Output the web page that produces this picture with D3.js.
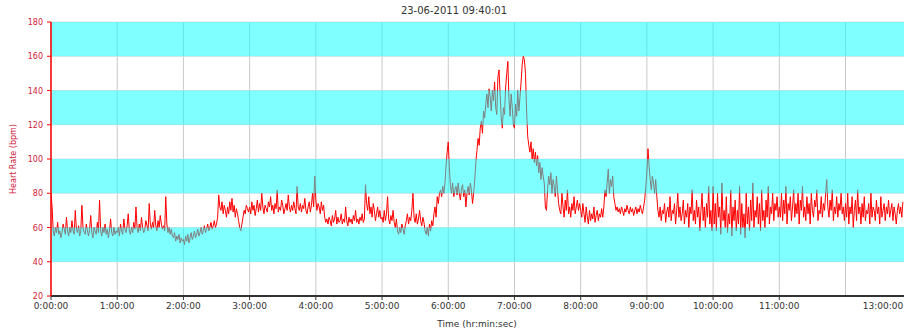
<!DOCTYPE html>
<html>
<head>
<meta charset="utf-8">
<script src="https://cdn.jsdelivr.net/npm/d3@7"></script>
<style>
  body { margin: 0; background: #fff; }
  svg { display: block; font-family: "DejaVu Sans", Verdana, sans-serif; }
</style>
</head>
<body>
<div id="chart"></div>
<script>
// heart rate samples, one a minute, grouped by hour
var hr0  = [80,72,58,55,60,57,63,56,58,54,57,62,59,56,66,58,55,60,57,64,
            58,56,70,59,57,61,55,58,73,60,57,56,62,58,55,59,67,57,54,60,
            58,56,63,57,76,58,55,60,57,62,56,59,54,58,65,57,55,60,56,58];
var hr1  = [57,60,55,62,58,56,65,59,57,61,68,58,56,60,57,63,59,72,60,57,
            62,58,66,60,57,59,64,61,58,74,62,59,63,60,70,61,58,64,60,67,
            62,59,61,58,78,62,57,60,56,59,55,54,57,52,55,53,56,51,54,52];
var hr2  = [53,50,55,52,56,51,54,57,53,55,58,54,56,59,55,57,60,56,58,61,
            57,59,62,58,60,63,59,61,64,60,62,66,79,72,70,75,68,73,70,66,
            72,68,75,70,77,69,73,66,71,68,64,60,58,62,66,70,68,73,71,69];
var hr3  = [72,68,75,70,73,67,71,76,69,74,70,80,72,68,73,71,69,75,72,78,
            70,73,68,74,71,82,69,72,70,76,73,68,71,74,70,79,72,69,73,70,
            75,71,68,84,72,70,74,69,73,71,77,70,68,72,75,69,73,80,72,90];
var hr4  = [76,70,74,72,68,75,70,73,66,63,65,62,66,64,61,67,63,65,70,62,
            66,63,64,68,62,65,63,72,64,61,66,63,65,62,67,64,70,63,65,62,
            66,64,68,63,65,85,74,70,78,68,72,66,74,70,64,68,72,66,70,65];
var hr5  = [66,63,70,64,68,78,65,62,67,64,70,63,60,65,58,56,60,57,62,59,
            56,61,64,68,62,66,64,70,80,66,63,68,62,65,70,64,61,66,63,58,
            56,60,55,62,58,64,61,68,72,66,78,74,80,82,78,84,80,86,96,104];
var hr6  = [110,95,84,80,86,78,82,84,79,86,80,76,83,85,78,82,72,80,84,79,
            86,82,74,80,88,98,105,112,108,118,122,115,128,124,132,138,130,141,136,128,
            140,134,145,130,126,148,152,138,124,118,130,126,142,150,157,135,125,138,130,120];
var hr7  = [118,132,125,140,128,136,145,155,160,158,150,128,113,108,104,110,100,106,98,104,
            96,102,92,98,88,95,90,86,72,70,82,90,85,92,80,88,84,78,90,82,
            74,70,68,80,72,66,76,70,82,68,72,66,74,70,78,68,72,76,70,74];
var hr8  = [70,66,74,68,63,72,66,62,70,64,68,65,72,63,67,70,64,68,66,71,
            66,72,82,78,86,94,80,88,84,90,78,74,70,72,69,71,68,72,70,67,
            71,69,73,70,68,72,69,71,67,70,72,68,71,69,73,70,68,72,76,84];
var hr9  = [92,106,96,88,82,90,86,80,88,78,70,66,72,64,70,68,74,63,69,72,
            66,78,64,70,68,74,62,70,80,66,72,64,68,76,62,70,66,74,60,72,
            68,82,64,70,62,76,66,72,58,70,80,64,72,60,74,66,84,62,70,58];
var hr10 = [84,62,74,58,80,66,72,56,86,64,70,60,78,57,68,62,82,55,72,64,
            76,58,70,62,84,56,74,60,68,54,80,62,72,58,76,64,86,60,70,66,
            78,62,74,58,82,64,70,60,76,66,84,62,72,68,80,64,74,70,78,66];
var hr11 = [72,66,80,64,76,68,84,62,74,70,78,64,72,82,66,74,68,80,62,76,
            70,84,66,72,64,78,68,74,62,80,70,66,76,72,82,64,70,68,78,66,
            74,70,80,88,72,66,76,70,82,64,72,68,78,66,74,70,80,68,72,64];
var hr12 = [74,66,80,62,72,68,78,60,70,76,64,82,68,72,62,74,66,78,64,70,
            68,74,62,80,66,72,70,64,76,68,72,62,78,66,70,74,64,72,68,76,
            66,70,74,64,72,68,62,70,74,68,72,66,75];

var stepMin = 1;
var heartRate = [].concat(hr0, hr1, hr2, hr3, hr4, hr5, hr6, hr7, hr8, hr9, hr10, hr11, hr12);

var xHours = [0,1,2,3,4,5,6,7,8,9,10,11,12];          // grid lines, minutes = h*60
var xTickLabels = ["0:00:00","1:00:00","2:00:00","3:00:00","4:00:00","5:00:00",
                   "6:00:00","7:00:00","8:00:00","9:00:00","10:00:00","11:00:00"];
var endTick = {min: 754, label: "13:00:00"};
var yTicks = [20,40,60,80,100,120,140,160,180];
var bands = [[40,60],[80,100],[120,140],[160,180]];
var title = "23-06-2011 09:40:01";

var width = 904, height = 332;
var margin = {top: 22, right: 0, bottom: 36, left: 51};

var svg = d3.select("#chart").append("svg")
	.attr("width", width)
	.attr("height", height);

var x = d3.scaleLinear()
	.domain([0, 773])
	.range([margin.left, width - margin.right]);
var y = d3.scaleLinear()
	.domain([20, 180])
	.range([height - margin.bottom, margin.top]);

svg.append("defs").append("clipPath").attr("id", "plot")
	.append("rect")
	.attr("x", margin.left).attr("y", margin.top)
	.attr("width", width - margin.left - margin.right)
	.attr("height", height - margin.top - margin.bottom);

// grid
svg.append("g")
	.selectAll("line")
	.data(xHours)
	.enter().append("line")
		.attr("x1", function(d) { return x(d*60); })
		.attr("x2", function(d) { return x(d*60); })
		.attr("y1", y(180)).attr("y2", y(20))
		.attr("stroke", "#c8c8c8").attr("stroke-width", 1);
svg.append("g")
	.selectAll("line")
	.data(yTicks)
	.enter().append("line")
		.attr("x1", margin.left).attr("x2", width)
		.attr("y1", function(d) { return y(d); })
		.attr("y2", function(d) { return y(d); })
		.attr("stroke", "#e2e2e2").attr("stroke-width", 1);

// the trace
var line = d3.line()
	.x(function(d, i) { return x(i*stepMin); })
	.y(function(d) { return y(d); });
svg.append("path")
	.datum(heartRate)
	.attr("clip-path", "url(#plot)")
	.attr("fill", "none")
	.attr("stroke", "#ff0000")
	.attr("stroke-width", 1)
	.attr("d", line);

// translucent zones on top, turns the red trace grey
svg.append("g")
	.selectAll("rect")
	.data(bands)
	.enter().append("rect")
		.attr("x", margin.left)
		.attr("y", function(d) { return y(d[1]); })
		.attr("width", width - margin.left)
		.attr("height", function(d) { return y(d[0]) - y(d[1]); })
		.attr("fill", "#00ffff").attr("fill-opacity", 0.5);

// x axis
var xAxis = svg.append("g").attr("transform", "translate(0," + y(20) + ")");
xAxis.append("line")
	.attr("x1", margin.left).attr("x2", width)
	.attr("stroke", "#333").attr("stroke-width", 2);
xAxis.selectAll("line.tick")
	.data(xTickLabels)
	.enter().append("line")
		.attr("class", "tick")
		.attr("x1", function(d, i) { return x(i*60); })
		.attr("x2", function(d, i) { return x(i*60); })
		.attr("y1", 0).attr("y2", 4)
		.attr("stroke", "#333");
xAxis.selectAll("text")
	.data(xTickLabels.concat([endTick.label]))
	.enter().append("text")
		.attr("x", function(d, i) { return i < xTickLabels.length ? x(i*60) : x(endTick.min); })
		.attr("y", 13)
		.attr("text-anchor", "middle")
		.attr("font-size", 9)
		.attr("fill", "#333")
		.text(function(d) { return d; });
svg.append("text")
	.attr("x", 477).attr("y", 327)
	.attr("text-anchor", "middle")
	.attr("font-size", 9)
	.attr("fill", "#333")
	.text("Time (hr:min:sec)");

// y axis
var yAxis = svg.append("g");
yAxis.append("line")
	.attr("x1", margin.left).attr("x2", margin.left)
	.attr("y1", y(180)).attr("y2", y(20))
	.attr("stroke", "#ff0000").attr("stroke-width", 1.5);
yAxis.selectAll("line.tick")
	.data(yTicks)
	.enter().append("line")
		.attr("class", "tick")
		.attr("x1", margin.left - 4).attr("x2", margin.left)
		.attr("y1", function(d) { return y(d); })
		.attr("y2", function(d) { return y(d); })
		.attr("stroke", "#ff0000");
yAxis.selectAll("text")
	.data(yTicks)
	.enter().append("text")
		.attr("x", margin.left - 8)
		.attr("y", function(d) { return y(d) + 3; })
		.attr("text-anchor", "end")
		.attr("font-size", 8)
		.attr("fill", "#d0223a")
		.text(function(d) { return d; });
svg.append("text")
	.attr("transform", "translate(16," + y(100) + ") rotate(-90)")
	.attr("text-anchor", "middle")
	.attr("font-size", 8)
	.attr("fill", "#d0223a")
	.text("Heart Rate (bpm)");

svg.append("text")
	.attr("x", 454).attr("y", 14)
	.attr("text-anchor", "middle")
	.attr("font-size", 10)
	.attr("fill", "#333")
	.text(title);
</script>
</body>
</html>
